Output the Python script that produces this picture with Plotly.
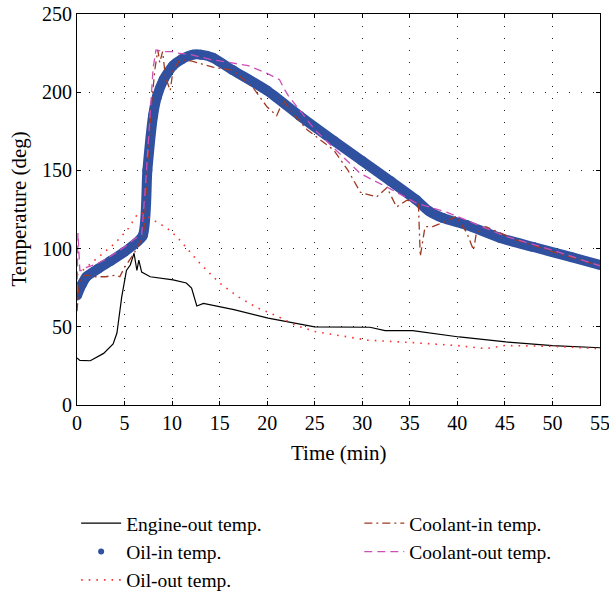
import plotly.graph_objects as go

# ---------------- data ----------------
engine_t = [0, 0.3, 1.4, 2.8, 3.8, 4.2, 4.7, 5.2, 5.6, 6.0, 6.3, 6.5, 6.8, 7.7, 10.1, 11.5, 12.05, 12.6, 13.3,
            16.5, 20.1, 25, 30.8, 32.4, 35.3, 40.2, 45.1, 50, 55]
engine_T = [30, 28.5, 28.3, 33, 39, 46, 69, 86, 89.5, 97, 86, 92.7, 85, 82, 80, 78, 74.7, 63.3, 65,
            61, 55.5, 50, 49.7, 47.5, 47.5, 43.5, 40.3, 38, 36.6]

oilin_t = [0, 0.5, 1, 2.2, 3.5, 5, 6.9, 7.4, 8.0, 8.4, 9.1, 10.1, 11, 12.2, 13, 14.3, 16.4, 20, 23.4,
           27, 30, 33, 35.7, 37, 38.5, 41, 44.5, 48, 52, 55]
oilin_T = [70, 77, 82, 87, 92, 98, 108, 150, 185, 197, 208, 217, 221, 224, 224, 222, 214, 201, 185,
           169, 156, 143, 131, 124, 119.5, 115, 106.8, 101, 94.5, 89.5]

oilout_t = [0, 1, 2, 4, 5.3, 6.3, 6.8, 7.5, 8.1, 9.5, 10.5, 12, 13, 15, 17, 19, 21, 23, 25, 28, 30.5, 35,
            40, 43, 45, 50, 55]
oilout_T = [83, 88, 93, 103.5, 112, 121.5, 123, 120, 118, 113, 107.6, 97, 90, 78, 69, 62, 57, 51, 47, 44,
            41.5, 40, 38, 36, 38, 37.5, 36]

coolin_t = [0, 0.2, 0.5, 1, 2, 3, 4, 4.5, 5, 6, 7, 7.3, 7.8, 8.2, 8.5, 8.7, 9.0, 9.3, 9.8, 10.1, 10.8,
            12, 12.9, 14.3, 16.4, 18.5, 20, 21, 21.7, 22.5, 24.2, 27, 28.5, 29.8, 31.5, 32.6, 33.6, 34.7,
            35.9, 36.1, 36.6, 37.4, 39, 39.9, 41, 41.7, 42, 43, 46, 50, 55]
coolin_T = [60, 75, 82, 83, 82, 82, 83, 82, 88, 97, 108, 140, 190, 215, 227, 219, 226, 210, 201, 214, 220.6,
            220, 218.6, 216, 214, 203, 190.5, 185, 195, 188, 176, 163, 150, 136, 133, 139, 126.6, 131,
            129, 95, 114, 114, 118, 120.5, 110, 99, 110, 114, 106, 98, 89]

coolout_t = [0, 0.1, 0.3, 0.6, 1, 2, 3, 4, 5, 6, 6.8, 7.2, 7.6, 8.0, 8.3, 9, 10, 10.5, 12, 14, 16, 18, 20,
             21.3, 21.8, 22.2, 25, 29.8, 33, 35.7, 37.4, 39, 41, 45, 50, 55]
coolout_T = [72, 110, 86, 86, 88, 90, 93, 97, 101, 106, 109, 140, 180, 215, 227, 226, 226, 225, 224, 221,
             219, 217, 212, 208, 202, 198, 176, 148, 138, 129, 126, 123, 118, 108, 99, 89]

x_ticks = [0, 5, 10, 15, 20, 25, 30, 35, 40, 45, 50, 55]
y_ticks = [0, 50, 100, 150, 200, 250]

FONT = "Liberation Serif"
BLUE = "#3050a0"

fig = go.Figure()
fig.add_trace(go.Scatter(x=engine_t, y=engine_T, mode="lines", name="Engine-out temp.",
                         line=dict(color="black", width=1.2), legend="legend"))
fig.add_trace(go.Scatter(x=oilin_t, y=oilin_T, mode="lines+markers", name="Oil-in temp.",
                         line=dict(color=BLUE, width=10, shape="spline", smoothing=0.6),
                         marker=dict(color=BLUE, size=10),
                         showlegend=False))
fig.add_trace(go.Scatter(x=[None], y=[None], mode="markers", name="Oil-in temp.",
                         marker=dict(color=BLUE, size=6), legend="legend"))
fig.add_trace(go.Scatter(x=oilout_t, y=oilout_T, mode="lines", name="Oil-out temp.",
                         line=dict(color="#ff3030", width=1.6, dash="1.6px,6px"), legend="legend"))
fig.add_trace(go.Scatter(x=coolin_t, y=coolin_T, mode="lines", name="Coolant-in temp.",
                         line=dict(color="#a03a22", width=1.3, dash="8px,4px,2px,4px"), legend="legend2"))
fig.add_trace(go.Scatter(x=coolout_t, y=coolout_T, mode="lines", name="Coolant-out temp.",
                         line=dict(color="#cc4fb8", width=1.3, dash="8px,5px"), legend="legend2"))

axis_common = dict(showline=True, linecolor="black", linewidth=1.2, mirror="allticks",
                   ticks="inside", ticklen=4, tickcolor="black",
                   showgrid=True, gridcolor="#222222", griddash="1.3px,10.7px", gridwidth=1.3,
                   zeroline=False, ticklabeloverflow="allow",
                   tickfont=dict(family=FONT, size=20, color="black"))

fig.update_xaxes(range=[0, 55], tickvals=x_ticks, ticktext=[str(v) for v in x_ticks], **axis_common)
fig.update_yaxes(range=[0, 250], tickvals=y_ticks, ticktext=[str(v) for v in y_ticks], **axis_common)

legend_common = dict(font=dict(family=FONT, size=19.5, color="black"), bgcolor="rgba(0,0,0,0)",
                     xref="container", yref="container", xanchor="left", yanchor="top",
                     itemwidth=40, tracegroupgap=0, traceorder="normal")
PLOT_L, PLOT_T, PLOT_B, PLOT_R = 77, 14, 405, 600
PW, PH = PLOT_R - PLOT_L, PLOT_B - PLOT_T
fig.update_layout(
    width=609, height=595,
    margin=dict(l=PLOT_L, r=609 - PLOT_R, t=PLOT_T, b=595 - PLOT_B, autoexpand=False),
    paper_bgcolor="white", plot_bgcolor="white",
    legend=dict(x=0.125, y=1 - 504 / 595, **legend_common),
    legend2=dict(x=0.59, y=1 - 504 / 595, **legend_common),
    annotations=[
        dict(text="Time (min)", xref="paper", yref="paper", x=0.5, y=(PLOT_B - 453) / PH,
             xanchor="center", yanchor="middle", showarrow=False,
             font=dict(family=FONT, size=21, color="black")),
        dict(text="Temperature (deg)", xref="paper", yref="paper", x=(18 - PLOT_L) / PW, y=0.5,
             xanchor="center", yanchor="middle", textangle=-90, showarrow=False,
             font=dict(family=FONT, size=21, color="black")),
    ],
)

fig.write_html("out.html")
